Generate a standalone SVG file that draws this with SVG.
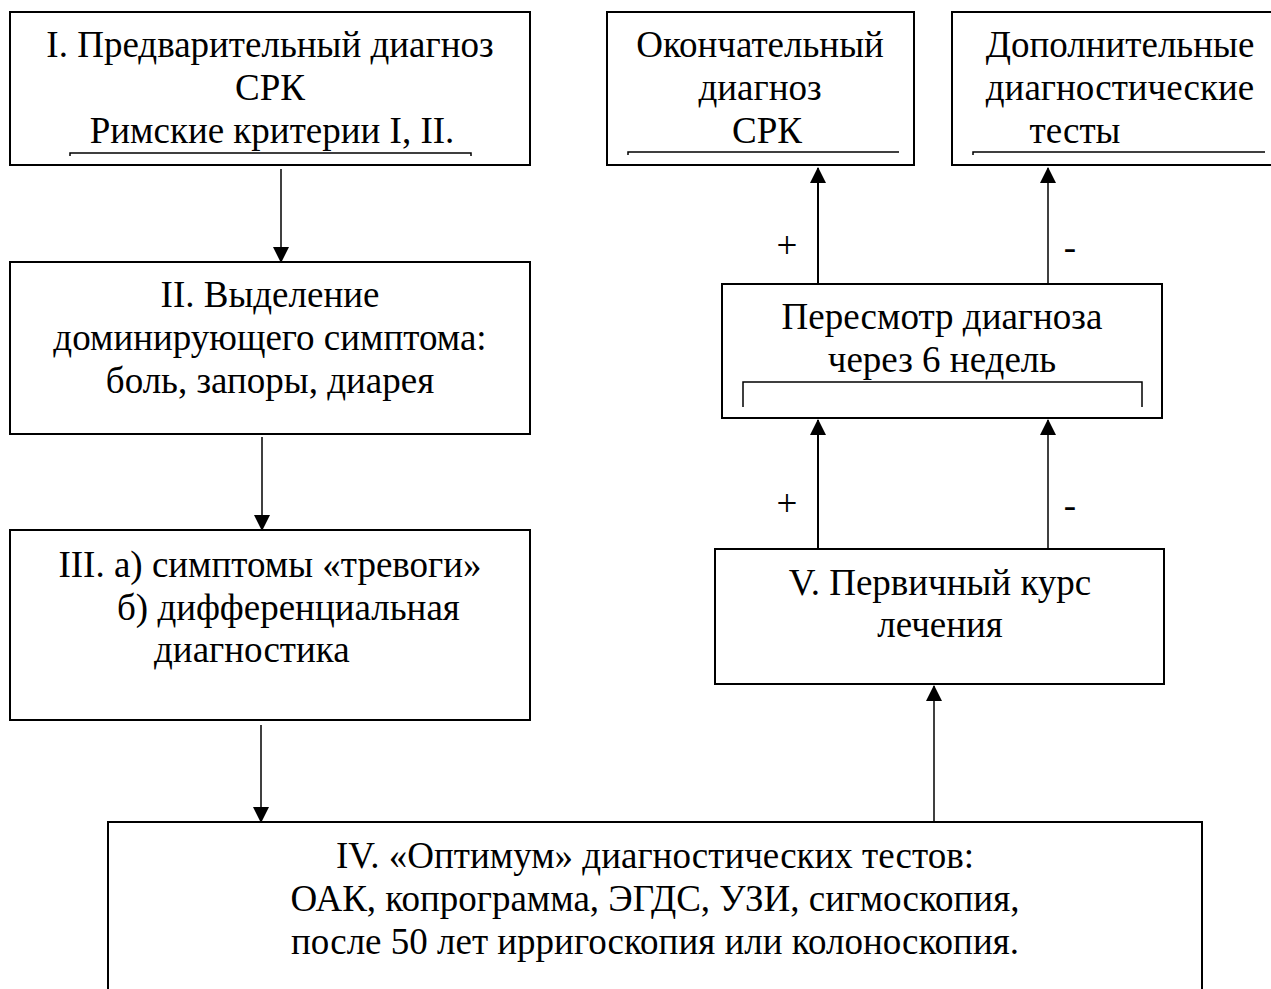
<svg xmlns="http://www.w3.org/2000/svg" width="1271" height="989" viewBox="0 0 1271 989">
<style>
.box{fill:#fff;stroke:#000;stroke-width:2}
.t{font-family:"Liberation Serif","Times New Roman",serif;font-size:37px;fill:#000}
.m{text-anchor:middle}
.ul{fill:none;stroke:#000;stroke-width:1.5}
.c{stroke:#000;fill:none}
</style>
<defs>
<marker id="ah" markerUnits="userSpaceOnUse" markerWidth="16" markerHeight="16" viewBox="0 0 16 16" refX="15" refY="8" orient="auto">
<path d="M0,0 L16,8 L0,16 Z" fill="#000"/>
</marker>
</defs>
<rect width="1271" height="989" fill="#fff"/>

<g id="node1">
<rect class="box" x="10" y="12" width="520" height="153"/>
<text class="t m" x="270" y="57">I. Предварительный диагноз</text>
<text class="t m" x="270" y="100">СРК</text>
<text class="t m" x="272" y="143">Римские критерии I, II.</text>
<polyline class="ul" points="70,156 70,153 471,153 471,156"/>
</g>

<g id="node2">
<rect class="box" x="10" y="262" width="520" height="172"/>
<text class="t m" x="270" y="307">II. Выделение</text>
<text class="t m" x="270" y="350">доминирующего симптома:</text>
<text class="t m" x="270" y="393">боль, запоры, диарея</text>
</g>

<g id="node3">
<rect class="box" x="10" y="530" width="520" height="190"/>
<text class="t m" x="270" y="577">III. а) симптомы «тревоги»</text>
<text class="t" x="117" y="620">б) дифференциальная</text>
<text class="t" x="154" y="662">диагностика</text>
</g>

<g id="node4">
<rect class="box" x="108" y="822" width="1094" height="180"/>
<text class="t m" x="655" y="868">IV. «Оптимум» диагностических тестов:</text>
<text class="t m" x="655" y="911">ОАК, копрограмма, ЭГДС, УЗИ, сигмоскопия,</text>
<text class="t m" x="655" y="954">после 50 лет ирригоскопия или колоноскопия.</text>
</g>

<g id="node5">
<rect class="box" x="715" y="549" width="449" height="135"/>
<text class="t m" x="940" y="595">V. Первичный курс</text>
<text class="t m" x="940" y="637">лечения</text>
</g>

<g id="node6">
<rect class="box" x="722" y="284" width="440" height="134"/>
<text class="t m" x="942" y="329">Пересмотр диагноза</text>
<text class="t m" x="942" y="372">через 6 недель</text>
<polyline class="ul" points="743,407 743,382 1142,382 1142,407"/>
</g>

<g id="node7">
<rect class="box" x="607" y="12" width="307" height="153"/>
<text class="t m" x="760" y="57">Окончательный</text>
<text class="t m" x="760" y="100">диагноз</text>
<text class="t m" x="767" y="143">СРК</text>
<polyline class="ul" points="628,155 628,152 899,152"/>
</g>

<g id="node8">
<rect class="box" x="952" y="12" width="340" height="153"/>
<text class="t m" x="1120" y="57">Дополнительные</text>
<text class="t m" x="1120" y="100">диагностические</text>
<text class="t m" x="1075" y="143">тесты</text>
<polyline class="ul" points="973,155 973,152 1265,152"/>
</g>

<g id="connectors">
<line class="c" stroke-width="1.5" x1="281" y1="169" x2="281" y2="262" marker-end="url(#ah)"/>
<line class="c" stroke-width="1.5" x1="262" y1="437" x2="262" y2="530" marker-end="url(#ah)"/>
<line class="c" stroke-width="1.5" x1="261" y1="725" x2="261" y2="822" marker-end="url(#ah)"/>
<line class="c" stroke-width="1.5" x1="934" y1="822" x2="934" y2="686" marker-end="url(#ah)"/>
<line class="c" stroke-width="2" x1="818" y1="549" x2="818" y2="420" marker-end="url(#ah)"/>
<line class="c" stroke-width="1.5" x1="1048" y1="549" x2="1048" y2="420" marker-end="url(#ah)"/>
<line class="c" stroke-width="2" x1="818" y1="284" x2="818" y2="168" marker-end="url(#ah)"/>
<line class="c" stroke-width="1.5" x1="1048" y1="284" x2="1048" y2="168" marker-end="url(#ah)"/>
<text class="t m" x="787" y="258">+</text>
<text class="t m" x="1070" y="260">-</text>
<text class="t m" x="787" y="516">+</text>
<text class="t m" x="1070" y="518">-</text>
</g>
</svg>
